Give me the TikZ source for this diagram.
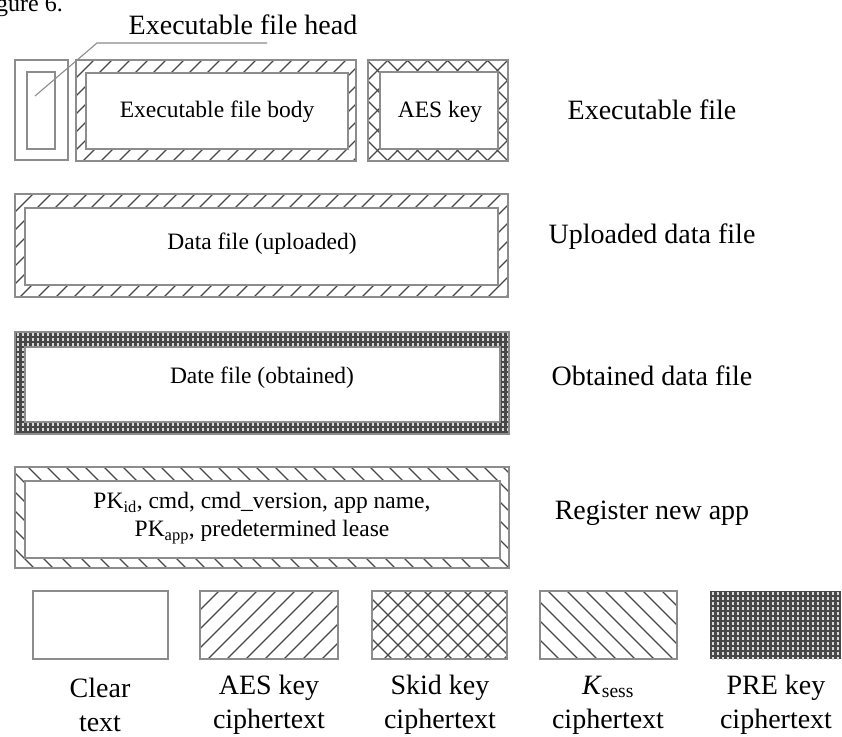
\documentclass[tikz,border=0pt]{standalone}
\usepackage{fontspec}
\setmainfont{Liberation Serif}
\newcommand\hatchSlash[5]{%
  \begin{scope}
    \clip (#1,#2) rectangle (#3,#4);
    \pgfmathsetmacro\hatchH{#4-#2}%
    \pgfmathsetmacro\hatchA{#1-\hatchH}%
    \pgfmathsetmacro\hatchB{#1-\hatchH+#5}%
    \foreach \hx in {\hatchA,\hatchB,...,#3} {\draw[hatch] (\hx,#4) -- ++(\hatchH,-\hatchH);}
  \end{scope}}
\newcommand\hatchBack[5]{%
  \begin{scope}
    \clip (#1,#2) rectangle (#3,#4);
    \pgfmathsetmacro\hatchH{#4-#2}%
    \pgfmathsetmacro\hatchA{#1-\hatchH}%
    \pgfmathsetmacro\hatchB{#1-\hatchH+#5}%
    \foreach \hx in {\hatchA,\hatchB,...,#3} {\draw[hatch] (\hx,#2) -- ++(\hatchH,\hatchH);}
  \end{scope}}
\newcommand\hatchDots[4]{%
  \fill[black!72] (#1,#2) rectangle (#3,#4);
  \begin{scope}
    \clip (#1,#2) rectangle (#3,#4);
    \pgfmathsetmacro\hatchA{#2+2.5}%
    \pgfmathsetmacro\hatchB{#2+7.5}%
    \foreach \hy in {\hatchA,\hatchB,...,#4} {\draw[white!85!black, line width=2.6pt, dash pattern=on 2.6pt off 2.4pt] (#1+1.5,\hy) -- (#3,\hy);}
  \end{scope}}
\begin{document}
\begin{tikzpicture}[x=1pt,y=-1pt,
  outbox/.style={draw=black!45, line width=1.1pt},
  inbox/.style={draw=black!45, fill=white, line width=1.1pt},
  hatch/.style={draw=black!72, line width=1.3pt},
  big/.style={font=\fontsize{28}{34}\selectfont, inner sep=0pt, align=center},
  mid/.style={font=\fontsize{23.5}{28}\selectfont, inner sep=0pt, align=center}]
\useasboundingbox (0,0) rectangle (842,736);
\fill[white] (0,0) rectangle (842,736);

% caption fragment
\node[font=\fontsize{24}{26}\selectfont, inner sep=0pt, anchor=base east] (cap) at (63,12) {Figure 6.};

% ---- executable file row
\node[big] (headlbl) at (243,25) {Executable file head};
\draw[outbox] (15,60) rectangle (68,160);
\draw[outbox] (27,72) rectangle (55,149);
\coordinate (hdpt) at (35,96);
\coordinate (hdbend) at (97,43);
\coordinate (hdend) at (267,43);
\draw[black!45, line width=1.1pt] (hdpt) -- (hdbend) -- (hdend);

\hatchSlash{76}{60}{356}{161}{18}
\filldraw[inbox] (86,73) rectangle (348,149);
\draw[outbox] (76,60) rectangle (356,161);
\node[mid] (body) at (217,112) {Executable file body};

\hatchSlash{368}{60}{508}{161}{20}
\hatchBack{368}{60}{508}{161}{20}
\filldraw[inbox] (380,72) rectangle (498,149);
\draw[outbox] (368,60) rectangle (508,161);
\node[mid] (aes) at (440,112) {AES key};

\node[big] (l1) at (652,110) {Executable file};

% ---- uploaded
\hatchSlash{15}{194}{508}{297}{18}
\filldraw[inbox] (25,208) rectangle (498,285);
\draw[outbox] (15,194) rectangle (508,297);
\node[mid] (up) at (262,244) {Data file (uploaded)};
\node[big] (l2) at (652,237) {Uploaded data file};

% ---- obtained
\hatchDots{15}{332}{509}{434}
\filldraw[inbox] (25,347) rectangle (500,422);
\draw[outbox] (15,332) rectangle (509,434);
\node[mid] (ob) at (262,378) {Date file (obtained)};
\node[big] (l3) at (652,376) {Obtained data file};

% ---- register
\hatchBack{15}{467}{509}{568}{19}
\filldraw[inbox] (25,481) rectangle (500,558);
\draw[outbox] (15,467) rectangle (509,568);
\node[mid] (reg) at (262,518) {PK\textsubscript{id}, cmd, cmd\_version, app name,\\PK\textsubscript{app}, predetermined lease};
\node[big] (l4) at (652,513) {Register new app};

% ---- legend
\draw[outbox] (33,591) rectangle (168,659);
\hatchSlash{200}{591}{338}{659}{19}
\draw[outbox] (200,591) rectangle (338,659);
\hatchSlash{372}{591}{507}{659}{20}
\hatchBack{372}{591}{507}{659}{20}
\draw[outbox] (372,591) rectangle (507,659);
\hatchBack{540}{591}{677}{659}{19}
\draw[outbox] (540,591) rectangle (677,659);
\hatchDots{710}{591}{841}{659}

\node[big] (g1) at (100,705) {Clear\\text};
\node[big] (g2) at (269,705) {AES key\\ciphertext};
\node[big] (g3) at (440,705) {Skid key\\ciphertext};
\node[big] (g4) at (608,705) {\textit{K}\textsubscript{sess}\\ciphertext};
\node[big] (g5) at (776,705) {PRE key\\ciphertext};
\end{tikzpicture}
\end{document}
